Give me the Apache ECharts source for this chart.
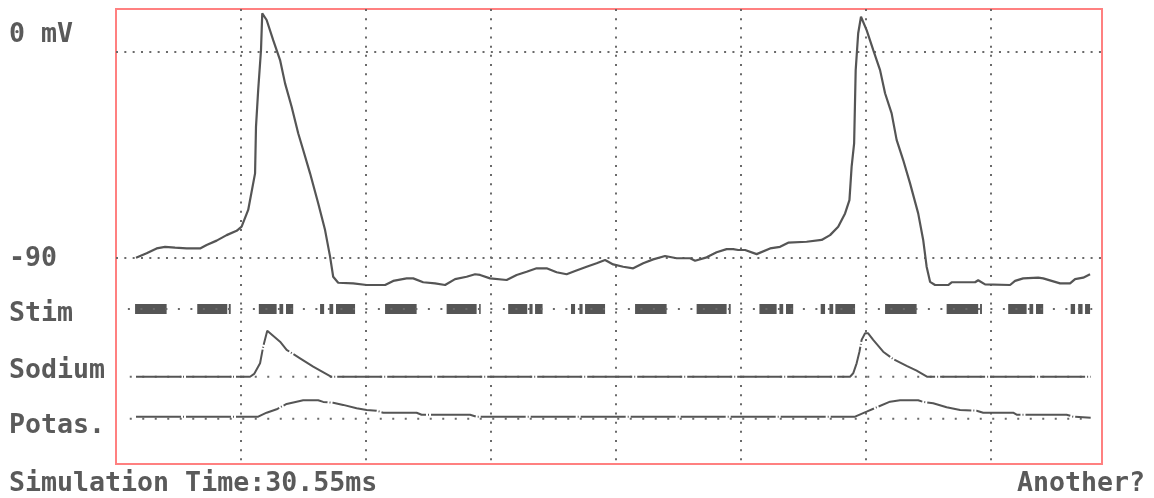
<!DOCTYPE html>
<html><head><meta charset="utf-8">
<script src="https://cdn.jsdelivr.net/npm/echarts@6/dist/echarts.min.js"></script>
<style>html,body{margin:0;padding:0;background:#fff}#c{width:1154px;height:498px}</style>
</head><body><div id="c"></div>
<script>
// ---- Membrane potential (time in ms, potential in mV) ----
const voltT = [0.00,0.34,0.66,0.93,1.25,1.62,2.05,2.26,2.58,2.90,3.22,3.38,3.59,3.81,3.84,3.91,4.00,4.04,4.18,4.39,4.61,4.77,4.98,5.19,5.35,5.57,5.83,6.05,6.21,6.31,6.47,6.95,7.38,7.97,8.23,8.66,8.87,9.19,9.57,9.89,10.21,10.58,10.85,11.01,11.33,11.86,12.18,12.50,12.82,13.14,13.46,13.78,14.05,14.42,14.74,15.01,15.27,15.59,15.91,16.23,16.55,16.93,17.30,17.73,17.89,18.26,18.58,18.90,19.11,19.27,19.49,19.86,20.29,20.61,20.87,21.46,21.94,22.21,22.47,22.69,22.83,22.90,22.98,23.03,23.11,23.20,23.38,23.59,23.81,23.97,24.18,24.34,24.55,24.77,25.03,25.19,25.30,25.41,25.57,25.99,26.10,26.85,26.95,27.17,27.97,28.13,28.39,28.87,29.03,29.30,29.57,29.89,30.05,30.31,30.53];
const voltV = [-89.9,-87.9,-85.8,-85.1,-85.5,-85.8,-85.8,-84.3,-82.4,-80.0,-78.1,-76.3,-69.0,-53.0,-32.6,-16.6,0.9,16.9,14.0,5.2,-3.5,-13.7,-23.9,-35.5,-42.8,-53.0,-66.1,-77.8,-89.4,-98.2,-100.8,-101.1,-101.8,-101.8,-100.0,-98.9,-98.9,-100.6,-101.1,-101.8,-99.2,-98.2,-97.1,-97.4,-98.9,-99.6,-97.4,-96.0,-94.5,-94.5,-96.2,-97.1,-95.7,-93.8,-92.3,-90.9,-92.8,-93.8,-94.5,-92.3,-90.6,-89.1,-90.1,-90.1,-91.2,-89.7,-87.5,-86.1,-86.1,-86.5,-86.5,-88.3,-85.8,-85.1,-83.3,-82.9,-82.1,-80.0,-76.3,-70.5,-64.7,-50.1,-39.9,-7.9,8.2,15.4,9.6,0.9,-7.9,-18.0,-26.8,-38.4,-47.2,-57.4,-70.5,-82.1,-93.8,-100.4,-101.8,-101.8,-100.6,-100.6,-99.7,-101.5,-101.8,-100.0,-98.9,-98.6,-98.9,-100.0,-101.1,-101.1,-99.2,-98.6,-97.1];

// ---- Sodium conductance (relative units) ----
const naT = [0.00,3.65,3.78,3.97,4.07,4.20,4.61,4.82,5.25,5.67,6.24,22.85,22.95,23.06,23.15,23.22,23.33,23.43,23.59,23.91,24.24,24.66,24.98,25.31,30.55];
const naV = [0,0,1.4,6.7,15.0,23.0,17.5,13.4,9.2,5.0,0,0,1.7,6.7,12.5,18.4,21.7,21.7,18.4,12.5,8.7,5.4,3.0,0,0];

// ---- Potassium conductance (relative units) ----
const kT = [0.00,3.91,4.18,4.50,4.82,5.14,5.35,5.83,5.99,6.31,6.63,7.06,7.38,7.70,7.91,8.98,9.14,10.69,10.90,23.01,23.38,23.70,24.13,24.45,25.03,25.19,25.51,25.94,26.37,26.90,27.11,28.07,28.18,29.78,29.99,30.55];
const kV = [0,0,2.0,3.7,6.4,7.5,8.2,8.2,7.4,7.0,5.9,4.2,3.4,3.0,2.0,2.0,1.0,1.0,0,0,2.5,4.7,7.5,8.2,8.2,7.4,6.7,4.7,3.4,3.0,2.0,2.0,1.0,1.0,0,-0.5];

// ---- Stimulus pulses (start / end, ms) ----
const stimStart = [-0.03,1.96,2.97,3.93,4.59,4.80,5.89,6.19,6.40, 7.97,9.94,10.98,11.91,12.59,12.77,13.92,14.19,14.37, 15.97,17.94,18.97,19.95,20.59,20.80,21.91,22.19,22.38, 23.97,25.94,27.01,27.91,28.59,28.80,29.91,30.15,30.37];
const stimEnd   = [0.98,2.92,3.03,4.50,4.71,5.03,6.02,6.31,7.01, 8.98,10.90,11.03,12.52,12.69,13.01,14.05,14.29,15.01, 16.98,18.90,19.03,20.50,20.71,21.03,22.05,22.31,23.01, 24.98,26.95,27.07,28.50,28.71,29.03,30.05,30.29,30.53];

// ---- Text ----
const axisLabels = ['0 mV', '-90'];
const rowLabels = ['Stim', 'Sodium', 'Potas.'];
const footerLeft = 'Simulation Time:30.55ms';
const footerRight = 'Another?';
const simEnd = 30.55;

const zip = (a, b) => a.map((v, i) => [v, b[i]]);
const GRAY = '#555555';
const TEXT = '#5a5a5a';
const FONT = 'bold 26.6px "DejaVu Sans Mono", monospace';
const dotRow = [2, 10.5];
const traceDash = [45, 2, 1, 2];

const chart = echarts.init(document.getElementById('c'), null, {renderer: 'canvas'});
chart.setOption({
  animation: false,
  backgroundColor: '#fff',
  grid: {left: 116, top: 9, width: 986, height: 455, show: true,
         borderColor: '#ff8080', borderWidth: 2, backgroundColor: 'transparent'},
  xAxis: [
    {type: 'value', min: -0.64, max: 30.912, show: false},
    {type: 'value', min: 0, max: 7.888, interval: 1, position: 'top',
     axisLine: {show: false}, axisTick: {show: false}, axisLabel: {show: false},
     splitLine: {show: true, showMinLine: false, showMaxLine: false,
                 lineStyle: {color: '#6a6a6a', width: 2, type: [2, 7.17]}}}
  ],
  yAxis: [
    {type: 'value', min: -180, max: 18.8, interval: 90,
     axisLine: {show: false}, axisTick: {show: false}, axisLabel: {show: false},
     splitLine: {show: true, showMinLine: false, showMaxLine: false,
                 lineStyle: {color: '#6a6a6a', width: 2, type: [2, 6.33]}}},
    {type: 'value', min: -155, max: 300, show: false},
    {type: 'value', min: -43.65, max: 183.85, show: false},
    {type: 'value', min: -23.65, max: 203.85, show: false}
  ],
  series: [
    {type: 'line', xAxisIndex: 0, yAxisIndex: 1, data: [[-0.26, 0], [simEnd + 0.05, 0]],
     showSymbol: false, silent: true, lineStyle: {color: '#6a6a6a', width: 2, type: dotRow}},
    {type: 'custom', xAxisIndex: 0, yAxisIndex: 1, data: zip(stimStart, stimEnd),
     renderItem: function (params, api) {
       const a = api.coord([api.value(0), 0]);
       const b = api.coord([api.value(1), 0]);
       return {type: 'rect', shape: {x: a[0], y: a[1] - 5, width: b[0] - a[0], height: 10},
               style: {fill: '#555'}};
     }},
    {type: 'line', xAxisIndex: 0, yAxisIndex: 2, data: [[-0.2, 0], [simEnd + 0.05, 0]],
     showSymbol: false, silent: true, lineStyle: {color: '#6a6a6a', width: 2, type: dotRow}},
    {type: 'line', xAxisIndex: 0, yAxisIndex: 2, data: zip(naT, naV), showSymbol: false,
     lineStyle: {color: GRAY, width: 2, type: traceDash}},
    {type: 'line', xAxisIndex: 0, yAxisIndex: 3, data: [[-0.2, -1], [simEnd + 0.05, -1]],
     showSymbol: false, silent: true, lineStyle: {color: '#6a6a6a', width: 2, type: dotRow}},
    {type: 'line', xAxisIndex: 0, yAxisIndex: 3, data: zip(kT, kV), showSymbol: false,
     lineStyle: {color: GRAY, width: 2, type: traceDash}},
    {type: 'line', xAxisIndex: 0, yAxisIndex: 0, data: zip(voltT, voltV), showSymbol: false, z: 3,
     lineStyle: {color: GRAY, width: 2.2}}
  ],
  graphic: [
    {type: 'text', x: 9, y: 35, style: {text: axisLabels[0], font: FONT, fill: TEXT, verticalAlign: 'middle'}},
    {type: 'text', x: 9, y: 259, style: {text: axisLabels[1], font: FONT, fill: TEXT, verticalAlign: 'middle'}},
    {type: 'text', x: 9, y: 314.5, style: {text: rowLabels[0], font: FONT, fill: TEXT, verticalAlign: 'middle'}},
    {type: 'text', x: 9, y: 371, style: {text: rowLabels[1], font: FONT, fill: TEXT, verticalAlign: 'middle'}},
    {type: 'text', x: 9, y: 426, style: {text: rowLabels[2], font: FONT, fill: TEXT, verticalAlign: 'middle'}},
    {type: 'text', x: 9, y: 484, style: {text: footerLeft, font: FONT, fill: TEXT, verticalAlign: 'middle'}},
    {type: 'text', x: 1017, y: 484, style: {text: footerRight, font: FONT, fill: TEXT, verticalAlign: 'middle'}}
  ]
});
</script></body></html>
